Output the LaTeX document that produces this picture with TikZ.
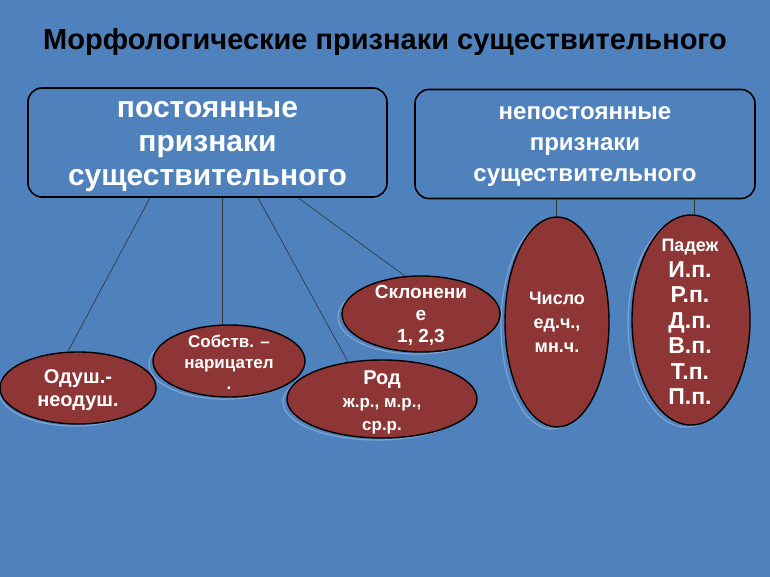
\documentclass[tikz,border=0pt]{standalone}
\usepackage{fontspec}
\setmainfont{Liberation Sans}
\usetikzlibrary{shapes.geometric}
\definecolor{bg}{HTML}{4F81BD}
\definecolor{ell}{HTML}{8E3535}
\definecolor{shd}{HTML}{7FA3D3}
\tikzset{
 box/.style={draw=black,line width=1.6pt,rounded corners=14pt,fill=bg,inner sep=0pt},
 boxtext/.style={text=white,align=center,inner sep=0pt},
 oval/.style={ellipse,draw=black,line width=1.4pt,fill=ell,inner sep=0pt},
 ovaltext/.style={text=white,font=\bfseries\fontsize{20}{23}\selectfont,align=center,inner sep=0pt},
 halo/.style={ellipse,draw=shd,line width=1.2pt,inner sep=0pt},
 link/.style={draw=black!80,line width=0.6pt}
}
\begin{document}
\begin{tikzpicture}[x=1pt,y=-1pt]
\fill[bg] (0,0) rectangle (770,577);
\useasboundingbox (0,0) rectangle (770,577);
\node[font=\bfseries\fontsize{29}{32}\selectfont] (title) at (385,42) {Морфологические признаки существительного};
\node[box,minimum width=359pt,minimum height=109pt] (b1) at (207.5,142.5) {};
\node[boxtext,font=\bfseries\fontsize{30}{34}\selectfont] (b1t) at (207.5,147) {постоянные\\признаки\\существительного};
\node[box,minimum width=340pt,minimum height=109pt] (b2) at (585,144) {};
\node[boxtext,font=\bfseries\fontsize{24}{31}\selectfont] (b2t) at (585,147) {непостоянные\\признаки\\существительного};
% halos
\node[halo,minimum width=150pt,minimum height=70pt] (h1) at (74,391) {};
\node[halo,minimum width=150pt,minimum height=70pt] (h2) at (224,364) {};
\node[halo,minimum width=188pt,minimum height=76pt] (h3) at (377,402) {};
\node[halo,minimum width=156pt,minimum height=74pt] (h4) at (416,317) {};
\node[halo,minimum width=102pt,minimum height=208pt] (h5) at (552,325) {};
\node[halo,minimum width=116pt,minimum height=208pt] (h6) at (686,323) {};
% ovals
\node[oval,minimum width=156pt,minimum height=72pt] (e1) at (78,388) {};
\node[ovaltext] (e1t) at (78,390) {Одуш.-\\неодуш.};
\node[oval,minimum width=152pt,minimum height=72pt] (e2) at (229,361) {};
\node[ovaltext,font=\bfseries\fontsize{17}{21}\selectfont] (e2t) at (229,362) {Собств. --\\нарицател\\.};
\node[oval,minimum width=190pt,minimum height=78pt] (e3) at (382,399) {};
\node[ovaltext] (e3t) at (382,402) {Род\\{\fontsize{17}{21}\selectfont ж.р., м.р.,}\\{\fontsize{17}{21}\selectfont ср.р.}};
\node[oval,minimum width=158pt,minimum height=76pt] (e4) at (421,314) {};
\node[ovaltext,font=\bfseries\fontsize{19}{22}\selectfont] (e4t) at (421,315) {Склонени\\е\\1, 2,3};
\node[oval,minimum width=104pt,minimum height=210pt] (e5) at (557,322) {};
\node[ovaltext,font=\bfseries\fontsize{18}{24}\selectfont] (e5t) at (557,322) {Число\\ед.ч.,\\мн.ч.};
\node[oval,minimum width=118pt,minimum height=210pt] (e6) at (691,320) {};
\node[ovaltext,font=\bfseries\fontsize{23}{25.5}\selectfont] (e6t) at (690,322) {{\fontsize{18}{22}\selectfont Падеж}\\И.п.\\Р.п.\\Д.п.\\В.п.\\Т.п.\\П.п.};
% links
\draw[link] (b1.south -| 150,0) -- (e1.north -| 68,0);
\draw[link] (b1.south -| 222,0) -- (e2.north -| 222,0);
\draw[link] (b1.south -| 258,0) -- (348,362);
\draw[link] (b1.south -| 298,0) -- (405,276);
\draw[link] (b2.south -| 556,0) -- (e5.north -| 556,0);
\draw[link] (b2.south -| 694,0) -- (e6.north -| 694,0);
\end{tikzpicture}
\end{document}
